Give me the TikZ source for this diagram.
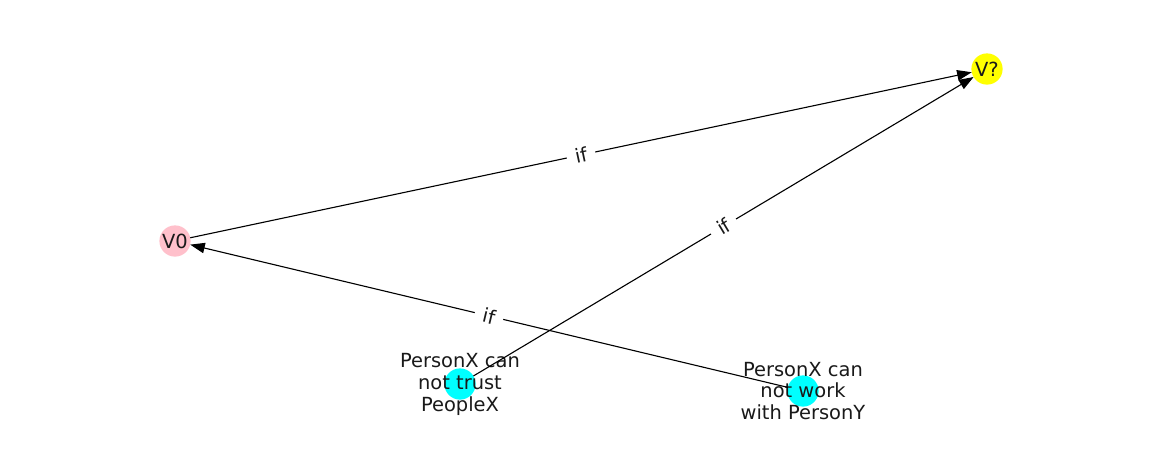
\documentclass[tikz,border=0pt]{standalone}
\usepackage{fontspec}
\setmainfont{DejaVu Sans}
\usetikzlibrary{arrows.meta}
\newcommand{\vertexsize}{22.5pt}
\definecolor{vpink}{RGB}{255,192,203}
\definecolor{vyellow}{RGB}{255,255,0}
\definecolor{vcyan}{RGB}{0,255,255}
\tikzstyle{vertex}=[circle, draw=none, inner sep=0, outer sep=0, minimum size=\vertexsize]
\tikzstyle{vtext}=[align=center, inner sep=0, text=black!90, font=\fontsize{14}{15.8}\selectfont]
\tikzstyle{iflabel}=[sloped, fill=white, inner xsep=6pt, inner ysep=2pt, text=black!90, font=\fontsize{14}{15}\selectfont]
\tikzstyle{rel}=[line width=0.8pt, -{Triangle[length=10.5pt, width=7.5pt]}]

\begin{document}
\begin{tikzpicture}[x=0.72pt, y=-0.72pt]
        \useasboundingbox (0, 0) rectangle (1162, 462);
        \node[vertex, fill=vyellow, label={[vtext]center:V?}] (Vq) at (987, 69) {};
        \node[vertex, fill=vpink, label={[vtext]center:V0}]   (V0) at (175, 241) {};
        \node[vertex, fill=vcyan, label={[vtext]center:PersonX can\\not trust\\PeopleX}] (trust) at (460, 384) {};
        \node[vertex, fill=vcyan, label={[vtext]center:PersonX can\\not work\\with PersonY}] (work) at (803, 391) {};
        \draw[rel] (V0) -- node[iflabel] {if} (Vq);
        \draw[rel] (trust) -- node[iflabel] {if} (Vq);
        \draw[rel] (work) -- node[iflabel] {if} (V0);
    \end{tikzpicture}
\end{document}
